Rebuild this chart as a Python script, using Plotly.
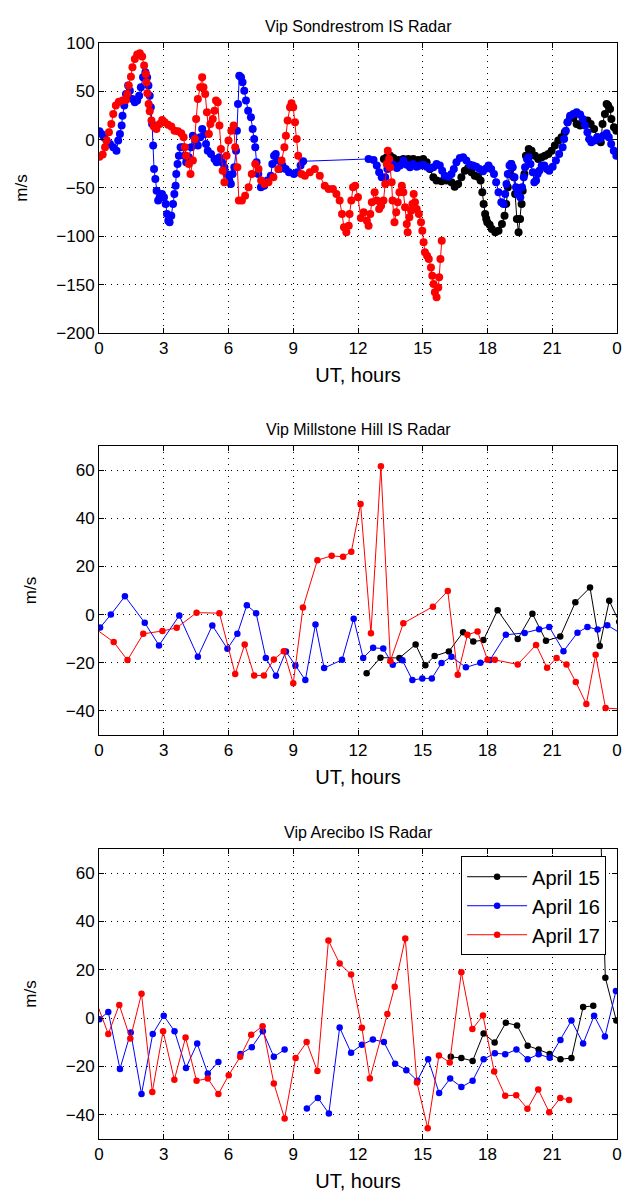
import plotly.graph_objects as go

# ---- Sondrestrom (top panel) ----
sond_15_h = [13.2, 13.33, 13.49, 13.64, 13.87, 14.1, 14.33, 14.56, 14.79, 15.02, 15.18, 15.33, 15.49, 15.64,
             15.87, 16.1, 16.33, 16.48, 16.64, 16.79, 16.95, 17.1, 17.26, 17.41, 17.56, 17.68, 17.76, 17.82,
             17.89, 17.94, 17.99, 18.1, 18.2, 18.36, 18.51, 18.67, 18.79, 18.87, 18.94, 19.02, 19.1, 19.22,
             19.28, 19.36, 19.44, 19.51, 19.58, 19.63, 19.71, 19.78, 19.91, 20.04, 20.2, 20.35, 20.51, 20.66,
             20.82, 20.97, 21.12, 21.28, 21.43, 21.58, 21.71, 21.83, 21.98, 22.13, 22.29, 22.44, 22.63, 22.78,
             22.94, 23.09, 23.25, 23.33, 23.44, 23.52, 23.59, 23.68, 23.74, 23.86, 23.97]
sond_15_v = [-20, -18.3, -16.6, -19, -21, -20, -20, -20, -21, -20, -23.5, -30.4, -39, -42.4,
             -43.1, -42.4, -44.2, -48.7, -45.9, -39, -32.1, -29.3, -33.8, -37.3, -38.3, -42.4, -54.5, -66.6,
             -77, -82, -85.6, -88, -92.5, -95.9, -94.2, -87.3, -78.7, -66.6, -49.3, -35.5, -25.2, -39,
             -56.2, -82.1, -95.9, -82.1, -66.6, -52.8, -35.5, -16.6, -9.7, -11.4, -16.6, -20, -18.3, -16.6,
             -14.8, -11.4, -6.2, -1, 2.4, 7.6, 17.9, 23.1, 22.4, 16.2, 14.5, 16.2, 19.7, 16.2,
             11, 2.4, -2.8, 16.2, 26.6, 36.9, 35.2, 31.7, 21.4, 12.8, 9.3]

sond_16_h = [0.02, 0.12, 0.23, 0.35, 0.51, 0.66, 0.81, 0.89, 0.97, 1.05, 1.09, 1.17, 1.25, 1.35, 1.43, 1.55,
             1.66, 1.77, 1.86, 1.94, 2.04, 2.15, 2.23, 2.29, 2.35, 2.4, 2.46, 2.51, 2.55, 2.61, 2.67, 2.74,
             2.81, 2.92, 3.01, 3.09, 3.15, 3.21, 3.27, 3.35, 3.43, 3.49, 3.55, 3.58, 3.64, 3.7, 3.78, 3.89,
             3.96, 4.04, 4.16, 4.27, 4.35, 4.47, 4.58, 4.69, 4.78, 4.89, 4.96, 5.04, 5.19, 5.35, 5.45, 5.58,
             5.7, 5.81, 5.91, 6.04, 6.11, 6.19, 6.27, 6.35, 6.39, 6.44, 6.5, 6.58, 6.65, 6.73, 6.81, 6.91,
             7.04, 7.12, 7.19, 7.24, 7.3, 7.38, 7.5, 7.65, 7.8, 7.96, 8.03, 8.11, 8.19, 8.27, 8.37, 8.5,
             8.65, 8.8, 9.03, 9.19, 9.34, 9.46,
             12.49, 12.72, 12.87, 12.98, 13.1, 13.26, 13.36, 13.49, 13.64, 13.8, 13.95, 14.1, 14.26, 14.41,
             14.56, 14.72, 14.88, 15.02, 15.18, 15.33, 15.49, 15.64, 15.79, 15.9, 16.02, 16.18, 16.33, 16.44,
             16.56, 16.72, 16.87, 17.02, 17.18, 17.33, 17.48, 17.63, 17.79, 17.94, 18.05, 18.17, 18.3, 18.4,
             18.51, 18.64, 18.74, 18.82, 18.88, 18.94, 19.02, 19.1, 19.17, 19.25, 19.32, 19.4, 19.52, 19.6,
             19.68, 19.74, 19.83, 19.91, 19.99, 20.1, 20.17, 20.25, 20.32, 20.4, 20.51, 20.63, 20.75, 20.86,
             21.02, 21.17, 21.32, 21.48, 21.55, 21.63, 21.71, 21.83, 21.98, 22.13, 22.29, 22.41, 22.52, 22.63,
             22.71, 22.81, 22.97, 23.09, 23.21, 23.36, 23.52, 23.62, 23.73, 23.85, 23.97]
sond_16_v = [8.6, 5.9, 2.4, -1, -4.5, -7.9, -11.4, -1, 5.9, 14.5, 24.8, 35.2, 47.3, 55.9, 50.7, 42.1,
             38.6, 40.4, 45.5, 54.2, 64.5, 69.7, 64.5, 55.9, 45.5, 33.5, 16.2, -6.2, -30.4, -40.7, -52.8, -63.1,
             -59.7, -56.2, -59.7, -66.6, -77, -83.9, -85.6, -78.7, -66.6, -56.2, -47.6, -35.5, -25.2, -16.6, -7.9, -7.9,
             -16.6, -23.5, -18.3, -7.9, 4.1, -1, -6.2, 2.4, 11, 5.9, -4.5, -11.4, -14.8, -20, -23.5, -18.3,
             -23.5, -28.6, -35.5, -42.4, -45.9, -35.5, -28.6, -11.4, 9.3, 37, 66, 64.5, 59.4, 50.7, 40.4, 30,
             23.1, 11, 0.7, -7.9, -23.5, -35.5, -49.3, -47.6, -42.4, -37.3, -25.2, -16.6, -14.8, -21.7, -30.4, -26.9,
             -30.4, -33.8, -35.5, -33.8, -26.9, -22.4,
             -20, -21, -26.9, -33.8, -39, -39, -30.4, -23.5, -25.9, -29.3, -26.9, -21.7, -25.9, -28.6,
             -25.2, -28, -26.9, -25.9, -28, -29.3, -28.6, -25.2, -26.9, -32.1, -37.3, -38.3, -35.5, -30.4,
             -23.5, -19, -18.3, -21.7, -25.9, -26.9, -28, -30.4, -32.8, -30, -26.9, -30.4, -35.5, -44.2,
             -54.5, -64.9, -66.6, -56.2, -45.9, -35.5, -26.9, -25.2, -28.6, -39, -49.3, -56.2, -59.7, -49.3,
             -39, -28.6, -20, -18.3, -25.2, -33.8, -44.2, -42.4, -35.5, -32.1, -26.9, -26.9, -30.4, -32.1,
             -28, -21.7, -14.8, -7.9, 0.7, 9.3, 17.9, 24.8, 26.6, 28.3, 25.9, 21.4, 14.5, 7.6,
             0.7, -2.8, -1, 2.4, 0.7, 4.1, 6.6, 2.4, -4.5, -11.4, -16.6]

sond_17_h = [0.02, 0.17, 0.28, 0.35, 0.46, 0.57, 0.66, 0.78, 0.92, 1.09, 1.25, 1.31, 1.38, 1.48, 1.55, 1.66,
             1.77, 1.89, 2.0, 2.09, 2.17, 2.2, 2.24, 2.3, 2.35, 2.43, 2.54, 2.66, 2.81, 2.93, 3.04, 3.2,
             3.35, 3.5, 3.66, 3.81, 3.92, 3.98, 4.04, 4.16, 4.24, 4.35, 4.44, 4.5, 4.58, 4.69, 4.78, 4.84,
             4.92, 5.0, 5.09, 5.16, 5.27, 5.35, 5.42, 5.5, 5.58, 5.65, 5.73, 5.81, 5.91, 6.0, 6.13, 6.24,
             6.31, 6.41, 6.48, 6.62, 6.77, 6.93, 7.08, 7.24, 7.39, 7.51, 7.67, 7.85, 8.08, 8.31, 8.46, 8.59,
             8.66, 8.74, 8.85, 8.92, 9.0, 9.08, 9.16, 9.23, 9.38, 9.54, 9.77, 10.0, 10.23, 10.46, 10.64, 10.84,
             11.0, 11.15, 11.26, 11.35, 11.46, 11.57, 11.61, 11.69, 11.77, 11.87, 12.0, 12.13, 12.26, 12.41,
             12.49, 12.57, 12.64, 12.77, 12.87, 12.98, 13.07, 13.18, 13.26, 13.33, 13.38, 13.44, 13.49, 13.56,
             13.6, 13.69, 13.77, 13.84, 13.92, 14.03, 14.1, 14.18, 14.26, 14.3, 14.38, 14.46, 14.52, 14.58,
             14.64, 14.72, 14.82, 14.92, 14.98, 15.04, 15.1, 15.2, 15.28, 15.38, 15.44, 15.5, 15.56, 15.64,
             15.72, 15.76, 15.82, 15.88]
sond_17_v = [-17.6, -15.5, -7.9, -1, 7.6, 16.2, 26.6, 35.2, 39.3, 40.4, 41, 47.3, 55.9, 65.2, 74.9, 83.5,
             88, 89.4, 85.9, 76.6, 68, 59.4, 48, 36.9, 29.3, 19.7, 13.5, 11, 16.2, 20.4, 17.9, 15.5,
             13.5, 9.3, 8.6, 6.6, 2.4, -7.9, -16.6, -25.2, -35.5, -21.7, 0.7, 21.4, 42.1, 54.2, 64.5, 54.2,
             47.3, 28.3, 5.9, 16.2, 21.4, 30, 40.4, 38.6, 14.5, -9.7, -32.1, -44.2, -16.6, -1, 9.3, 14.5,
             -7.9, -28.6, -63.1, -63.1, -58, -49.3, -35.5, -25.2, -30.4, -42.4, -45.9, -44.2, -39, -30.4, -21.7, -7.9,
             4.1, 19.7, 33.5, 37.6, 33.5, 17.9, 0.7, -16.6, -35.5, -37.3, -33.8, -30.4, -37.3, -47.6, -51, -51,
             -56.2, -63.1, -77, -90.8, -95.9, -89, -77, -63.1, -49.3, -47.6, -59.7, -81, -75.2, -83.9,
             -89, -77, -64.9, -54.5, -63.1, -71.8, -68.3, -63.1, -45.9, -25.2, -11.4, -20, -28.6, -44.2,
             -63.1, -85.6, -75.2, -64.9, -54.5, -47.6, -54.5, -70, -87.3, -95.9, -80.4, -73.5, -66.6, -56.2,
             -64.9, -71.8, -77, -85.6, -94.2, -106.3, -116.6, -120.1, -123.5, -132.2, -140.8, -149.4, -158, -163.2,
             -152.9, -142.5, -123.5, -104.6]

# ---- Millstone Hill (middle panel) ----
mill_15_h = [12.4, 13.04, 13.92, 14.67, 15.12, 15.55, 16.21, 16.87, 17.34, 17.81, 18.47, 19.4, 20.08,
             20.71, 21.37, 22.07, 22.75, 23.2, 23.64, 24.1]
mill_15_v = [-24.4, -17.9, -18, -12.4, -21, -17.2, -15.3, -7.3, -11.2, -10.6, 1.8, -10.1, 0.4,
             -10.9, -9.1, 5.1, 11.2, -13, 5.7, -3]

mill_16_h = [0.05, 0.55, 1.2, 2.12, 2.78, 3.72, 4.58, 5.25, 5.95, 6.41, 6.85, 7.28, 7.73, 8.2, 8.66,
             9.1, 9.56, 10.03, 10.43, 11.26, 11.8, 12.24, 12.7, 13.17, 13.61, 14.06, 14.52, 14.98, 15.42,
             15.87, 16.33, 17.0, 17.67, 18.11, 18.85, 19.72, 20.39, 20.86, 21.52, 22.17, 22.63, 23.1, 23.55, 24.3]
mill_16_v = [-5.4, 0, 7.6, -3.4, -12.8, -0.4, -17.5, -4.5, -14.2, -8, 3.9, 0.6, -18, -25.4, -15.3,
             -21.1, -27.2, -4.1, -22.2, -18.8, -1.7, -18, -13.8, -14.1, -20.8, -19, -27.2, -26.5, -26.5,
             -20.1, -17.5, -21.9, -20, -18.9, -8.4, -7.6, -6.1, -5.1, -15.2, -7.5, -5.1, -6.2, -4.4, -8.5]

mill_17_h = [-0.3, 0.68, 1.32, 2.05, 2.94, 3.6, 4.52, 5.58, 6.31, 6.75, 7.19, 7.64, 8.1, 8.56, 9.0,
             9.45, 10.12, 10.78, 11.31, 11.69, 12.12, 12.6, 13.06, 13.5, 14.1, 15.47, 16.16, 16.62, 17.07,
             17.54, 18.0, 18.34, 19.4, 20.25, 20.76, 21.2, 21.66, 22.09, 22.58, 23.01, 23.47, 24.3]
mill_17_v = [-5, -11.4, -18.9, -8, -6.8, -5.5, 0.8, 0.6, -24.7, -12.4, -25.3, -25.3, -18.6, -15.2, -28.5,
             2.9, 22.6, 24.4, 24, 26.1, 45.9, -7.7, 61.6, -19.3, -3.6, 3.3, 9.8, -25, -8.4,
             -7, -18.8, -18.8, -20.7, -12.6, -22.1, -18, -20.7, -28, -37.1, -16.7, -38.8, -39.3]

# ---- Arecibo (bottom panel) ----
arec_15_h = [16.3, 16.79, 17.31, 17.82, 18.33, 18.85, 19.37, 19.86, 20.37, 20.88, 21.38, 21.89, 22.43,
             22.9, None, 23.2, 23.46, 23.97]
arec_15_v = [-16, -16.5, -17.7, -6.3, -10.1, -1.9, -3, -11.4, -13, -14.8, -17, -16.5, 4.6,
             5.1, None, 90, 16.7, -1]

arec_16_h = [0.02, 0.43, 0.97, 1.47, 1.97, 2.49, 3.0, 3.5, 4.03, 4.55, 5.04, 5.53, None,
             6.56, 7.08, 7.59, 8.1, 8.6, None,
             9.63, 10.14, 10.65, 11.15, 11.68, 12.18, 12.69, 13.2, 13.72, 14.24, 14.75, 15.25, 15.76,
             16.27, 16.79, 17.31, 17.82, 18.34, 18.82, 19.34, 19.86, 20.37, 20.88, 21.38, 21.89, 22.43,
             22.94, 23.44, 23.95]
arec_16_v = [-0.4, 2.6, -21, -5.9, -31.4, -6.5, 1.0, -5.4, -20.6, -10.5, -22.9, -18.1, None,
             -14.8, -12, -5.4, -16, -13, None,
             -37.4, -33, -39.4, -3.9, -14.3, -11, -8.8, -9.9, -18.9, -21.5, -25.9, -17, -31,
             -25, -28.5, -25.9, -17, -14.5, -14.9, -13, -17, -14.9, -16.4, -9, -1, -10.5,
             1, -7.6, 11.2]

arec_17_h = [-0.2, 0.43, 0.94, 1.45, 1.97, 2.47, 2.97, 3.49, 4.01, 4.52, 5.04, 5.53, 6.01, 6.54,
             7.05, 7.58, 8.1, 8.6, 9.11, 9.62, 10.12, 10.63, 11.15, 11.68, 12.18, 12.55, 13.36, 13.7,
             14.19, 14.73, 15.23, 15.75, 16.25, 16.79, 17.3, 17.79, 18.31, 18.82, 19.33, 19.85, 20.35,
             20.86, 21.37, 21.78]
arec_17_v = [8.5, -6.5, 5.5, -8.4, 10.1, -30.5, -5.4, -25.5, -8, -25.9, -25, -31.4, -23.6, -16,
             -6.9, -3.3, -27, -41.5, -16.5, -9.9, -21.9, 32.1, 22.6, 18.1, -4, -25, 1.7, 13,
             33, -26.6, -45.5, -15.4, -18.3, 19, -4.5, 1.1, -22.1, -32.1, -31.9, -37.5, -29.5,
             -38.9, -33, -33.9]

hour_ticks = [0, 3, 6, 9, 12, 15, 18, 21, 24]
hour_labels = ["0", "3", "6", "9", "12", "15", "18", "21", "0"]

titles = ["Vip Sondrestrom IS Radar", "Vip Millstone Hill IS Radar", "Vip Arecibo IS Radar"]
day_names = ["April 15", "April 16", "April 17"]
day_colors = ["#000000", "#0000ff", "#ff0000"]

FONT = "Liberation Sans, Arial, Helvetica, sans-serif"

panels = [
    ([sond_15_h, sond_16_h, sond_17_h], [sond_15_v, sond_16_v, sond_17_v], 8),
    ([mill_15_h, mill_16_h, mill_17_h], [mill_15_v, mill_16_v, mill_17_v], 6.5),
    ([arec_15_h, arec_16_h, arec_17_h], [arec_15_v, arec_16_v, arec_17_v], 6.5),
]

fig = go.Figure()
for p, (hs, vs, msize) in enumerate(panels):
    ax = "" if p == 0 else str(p + 1)
    for k in range(3):
        fig.add_trace(go.Scatter(
            x=hs[k], y=vs[k], mode="lines+markers",
            line=dict(color=day_colors[k], width=1),
            marker=dict(color=day_colors[k], size=msize),
            name=day_names[k], showlegend=(p == 2),
            xaxis="x" + ax, yaxis="y" + ax,
        ))

domains = [[0.7355, 1.0], [0.3686, 0.6323], [0.0, 0.2646]]
yranges = [[-200, 100], [-50, 70], [-50, 70]]
ydticks = [50, 20, 20]

axis_common = dict(
    showline=True, linecolor="black", linewidth=1, mirror="ticks",
    ticks="inside", ticklen=5, tickcolor="black",
    showgrid=True, gridcolor="black", gridwidth=1, griddash="1px,5px",
    zeroline=False, tickfont=dict(size=17, color="black", family=FONT),
)

# the page adds an 8 px body margin, so the margins are shifted to compensate
layout = dict(
    width=633, height=1193,
    margin=dict(l=88, r=24, t=35, b=62),
    plot_bgcolor="white", paper_bgcolor="white",
    font=dict(family=FONT, color="black"),
    legend=dict(
        x=0.979, y=0.258, xanchor="right", yanchor="top",
        bgcolor="white", bordercolor="black", borderwidth=1,
        font=dict(size=20, family=FONT), itemwidth=60,
        tracegroupgap=0,
    ),
    annotations=[],
)

for p in range(3):
    ax = "" if p == 0 else str(p + 1)
    layout["xaxis" + ax] = dict(
        axis_common, domain=[0, 1], range=[0, 24], anchor="y" + ax,
        tickvals=hour_ticks, ticktext=hour_labels,
        title=dict(text="UT, hours", font=dict(size=20), standoff=10),
    )
    layout["yaxis" + ax] = dict(
        axis_common, domain=domains[p], range=yranges[p], anchor="x" + ax,
        dtick=ydticks[p], tick0=0,
        title=dict(text="m/s", font=dict(size=17), standoff=24),
    )
    layout["annotations"].append(dict(
        text=titles[p], xref="paper", yref="paper", x=0.5, y=domains[p][1],
        yshift=6, xanchor="center", yanchor="bottom", showarrow=False,
        font=dict(size=16, family=FONT, color="black"),
    ))

fig.update_layout(layout)
fig.write_html("out.html")
